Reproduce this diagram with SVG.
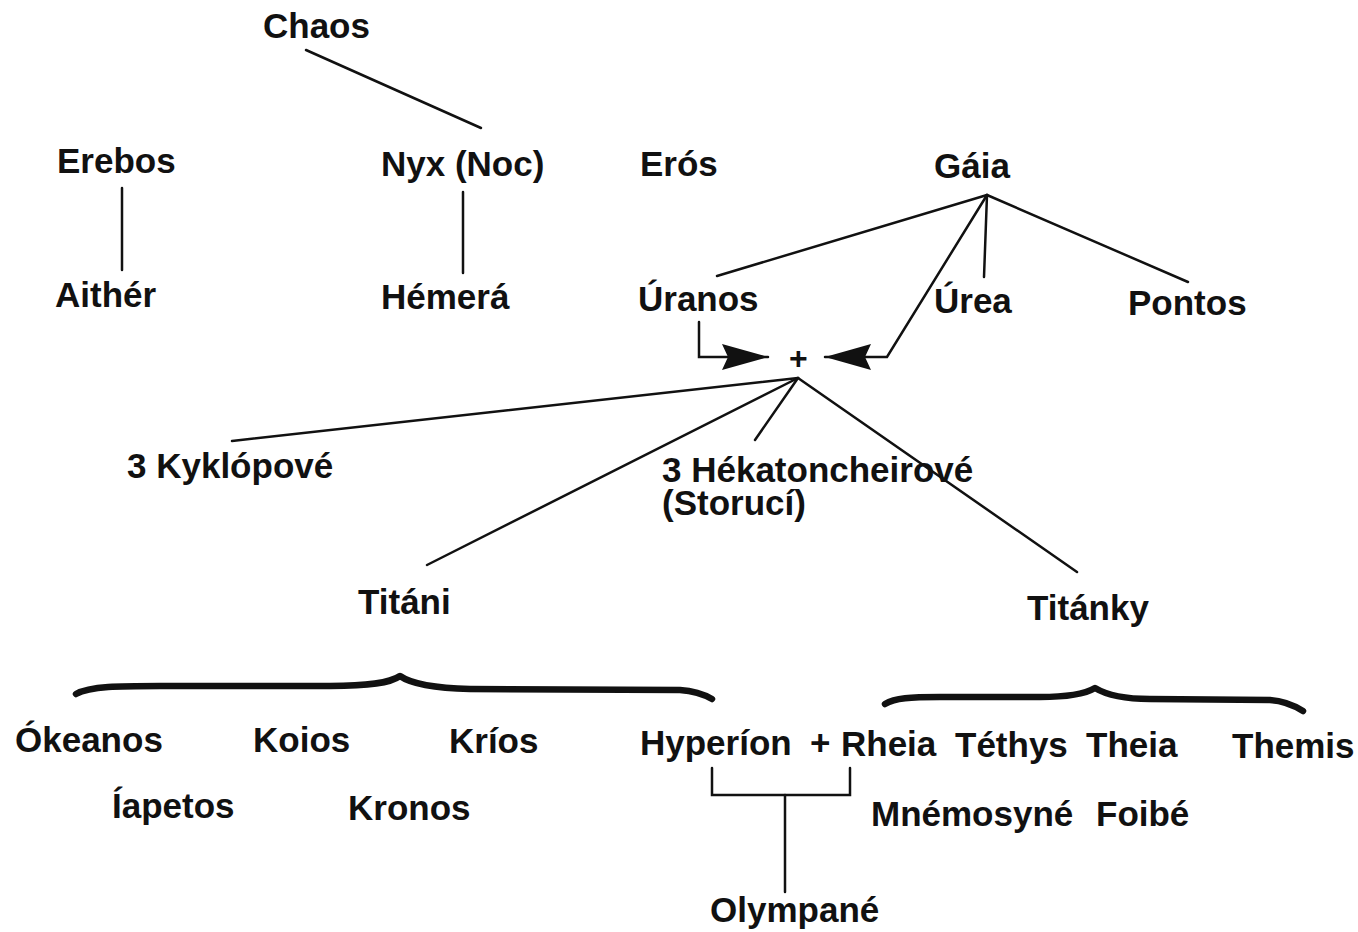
<svg xmlns="http://www.w3.org/2000/svg" width="1358" height="932" viewBox="0 0 1358 932">
<style>
text{font-family:"Liberation Sans",Arial,sans-serif;font-size:35px;font-weight:bold;fill:#111}
.c line,.c polyline{stroke:#111;stroke-width:2.5;fill:none;stroke-linecap:round;stroke-linejoin:miter}
.c path.brace{stroke:#111;stroke-width:6.5;fill:none;stroke-linecap:round;stroke-linejoin:round}
</style>
<defs>
<marker id="ah" viewBox="0 0 46 28" refX="46" refY="14" markerWidth="46" markerHeight="28" markerUnits="userSpaceOnUse" orient="auto">
<path d="M0,1 L46,14 L0,27 L6,14 Z" fill="#111"/>
</marker>
</defs>
<rect width="1358" height="932" fill="#fff"/>
<g class="c" id="connectors">
<line x1="306" y1="50" x2="481" y2="128"/>
<line x1="122" y1="188" x2="122" y2="270"/>
<line x1="463" y1="192" x2="463" y2="273"/>
<line x1="987" y1="195" x2="717" y2="276"/>
<line x1="987" y1="195" x2="984" y2="277"/>
<line x1="987" y1="195" x2="1188" y2="282"/>
<polyline points="987,195 887,357 825,357" marker-end="url(#ah)"/>
<polyline points="699,322 699,357 768,357" marker-end="url(#ah)"/>
<line x1="798" y1="378" x2="232" y2="441"/>
<line x1="798" y1="378" x2="427" y2="565"/>
<line x1="798" y1="378" x2="755" y2="440"/>
<line x1="798" y1="378" x2="1077" y2="572"/>
<polyline points="712,768 712,795 850,795 850,768"/>
<line x1="785" y1="795" x2="785" y2="892"/>
<path class="brace" d="M76,694 C90,686 120,686 160,686 L330,686 C370,686 390,683 400,676 C410,683 430,688 470,689 L680,690 C695,691 705,695 712,699"/>
<path class="brace" d="M885,704 C895,698 910,697 940,697 L1040,697 C1070,697 1085,694 1095,688 C1105,694 1120,699 1150,699 L1270,700 C1285,701 1295,706 1303,711"/>
</g>
<g id="chaos"><text x="263" y="38">Chaos</text></g>
<g id="erebos"><text x="57" y="173">Erebos</text></g>
<g id="nyx"><text x="381" y="176">Nyx (Noc)</text></g>
<g id="eros"><text x="640" y="176">Erós</text></g>
<g id="gaia"><text x="934" y="178">Gáia</text></g>
<g id="aither"><text x="55" y="307">Aithér</text></g>
<g id="hemera"><text x="381" y="309">Hémerá</text></g>
<g id="uranos"><text x="638" y="311">Úranos</text></g>
<g id="urea"><text x="934" y="313">Úrea</text></g>
<g id="pontos"><text x="1128" y="315">Pontos</text></g>
<g id="plus"><text x="789" y="369" style="font-size:32px">+</text></g>
<g id="kyklopove"><text x="127" y="478">3 Kyklópové</text></g>
<g id="hekatoncheirove"><text x="662" y="482">3 Hékatoncheirové</text><text x="662" y="515">(Storucí)</text></g>
<g id="titani"><text x="358" y="614">Titáni</text></g>
<g id="titanky"><text x="1027" y="620">Titánky</text></g>
<g id="okeanos"><text x="15" y="752">Ókeanos</text></g>
<g id="koios"><text x="253" y="752">Koios</text></g>
<g id="krios"><text x="449" y="753">Kríos</text></g>
<g id="hyperion"><text x="640" y="755">Hyperíon</text></g>
<g id="plus2"><text x="810" y="755">+</text></g>
<g id="rheia"><text x="841" y="756">Rheia</text></g>
<g id="tethys"><text x="955" y="757">Téthys</text></g>
<g id="theia"><text x="1086" y="757">Theia</text></g>
<g id="themis"><text x="1232" y="758">Themis</text></g>
<g id="iapetos"><text x="112" y="818">Íapetos</text></g>
<g id="kronos"><text x="348" y="820">Kronos</text></g>
<g id="mnemosyne"><text x="871" y="826">Mnémosyné</text></g>
<g id="foibe"><text x="1096" y="826">Foibé</text></g>
<g id="olympane"><text x="710" y="922">Olympané</text></g>
</svg>
